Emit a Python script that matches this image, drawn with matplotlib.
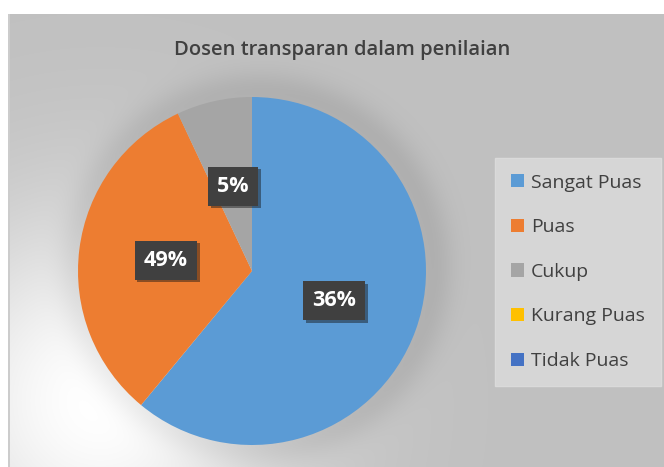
import numpy as np
import matplotlib
matplotlib.use("Agg")
import matplotlib.pyplot as plt
from matplotlib.patches import Patch
import matplotlib.patheffects as pe

plt.rcParams['font.family'] = ['Open Sans', 'DejaVu Sans']

# ---- data ----
title = "Dosen transparan dalam penilaian"
categories = ["Sangat Puas", "Puas", "Cukup", "Kurang Puas", "Tidak Puas"]
slice_values = [61, 32, 7, 0, 0]          # visual slice sizes
data_labels = ["36%", "49%", "5%", "", ""]  # printed labels (as shown in the chart)
colors = ["#5B9BD5", "#ED7D31", "#A5A5A5", "#FFC000", "#4472C4"]

W, H = 664, 467
fig = plt.figure(figsize=(W / 100, H / 100), dpi=100)

# ---- background with soft glow ----
yy, xx = np.mgrid[0:H, 0:W].astype(float)
base = 0.753
img = np.full((H, W), base)
d_glow = np.hypot(xx - 100, yy - 400)
glow = np.exp(-(d_glow / 190.0) ** 2)
img = img + (1 - img) * glow
d_halo = np.hypot(xx - 256, yy - 268)
halo = np.exp(-((d_halo - 176) / 22.0) ** 2) * 0.07
img = img - halo
img = np.clip(img, 0, 1)
img[:14, :] = 1.0
img[:, :8] = 1.0
img[14:, 8:10] = 0.80
rgb = np.dstack([img, img, img])
bg = fig.add_axes([0, 0, 1, 1])
bg.imshow(rgb, extent=(0, W, H, 0), aspect='auto', interpolation='bilinear')
bg.set_xlim(0, W)
bg.set_ylim(H, 0)
bg.axis('off')

# ---- pie ----
cx, cy, r = 252, 271, 174
ax = fig.add_axes([(cx - r) / W, 1 - (cy + r) / H, 2 * r / W, 2 * r / H])
vals = [v for v in slice_values if v > 0]
labs = [l for v, l in zip(slice_values, data_labels) if v > 0]
cols = [c for v, c in zip(slice_values, colors) if v > 0]
wedges, texts = ax.pie(vals, colors=cols, startangle=90, counterclock=False,
                       labels=labs, labeldistance=0.5, radius=1.0,
                       wedgeprops=dict(linewidth=0))
for t in texts:
    t.set_color("white")
    t.set_fontsize(15.5)
    t.set_fontweight("bold")
    t.set_ha("center")
    t.set_va("center")
    t.set_bbox(dict(boxstyle="square,pad=0.42", facecolor="#404040", edgecolor="none"))
    t.get_bbox_patch().set_path_effects([pe.SimplePatchShadow(offset=(2, -2), alpha=0.45),
                                         pe.Normal()])
ax.set_xlim(-1, 1)
ax.set_ylim(-1, 1)
ax.set_aspect('equal')
ax.axis('off')

# ---- title ----
fig.text(342 / W, 1 - 50 / H, title, ha='center', va='center',
         fontsize=14.5, color='#404040', fontweight='semibold')

# ---- legend ----
handles = [Patch(facecolor=c, edgecolor='none') for c in colors]
leg = fig.legend(handles, categories, loc='upper left',
                 bbox_to_anchor=(495 / W, 1 - 158 / H), borderaxespad=0,
                 frameon=True, fancybox=False, fontsize=14,
                 handlelength=0.68, handleheight=0.68, handletextpad=0.38,
                 labelspacing=1.37, borderpad=0.8, labelcolor='#404040')
leg.get_frame().set_facecolor('#d6d6d6')
leg.get_frame().set_edgecolor('#dadada')
leg.get_frame().set_alpha(1)

fig.savefig("out.png", dpi=100)
